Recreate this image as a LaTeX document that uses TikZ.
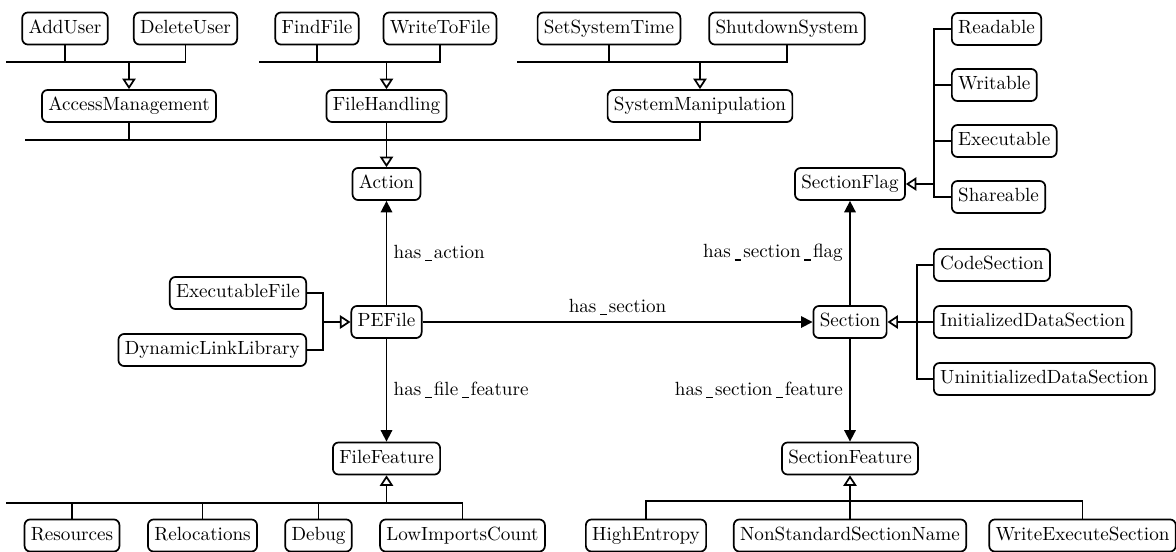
\documentclass[tikz,border=0pt]{standalone}
\usetikzlibrary{arrows.meta}
\newcommand\us{\hbox{\kern2pt\vrule width 3.5pt height -0.9pt depth 1.45pt\kern1pt}}
\begin{document}
\begin{tikzpicture}[x=0.5236pt,y=-0.5236pt,
  cls/.style={draw, rounded corners=3pt, line width=0.9pt, text height=7pt, text depth=2pt, inner xsep=3.33pt, inner ysep=3.9pt},
  conn/.style={line width=0.9pt},
  inh/.style={conn, -{Triangle[open,width=7pt,length=5.5pt]}},
  assoc/.style={conn, -{Triangle[width=6pt,length=6pt]}}]
\useasboundingbox (0,0) rectangle (1176,552);
% top row
\node[cls] (adduser) at (65,28.5) {AddUser};
\node[cls] (deleteuser) at (185.5,28.5) {DeleteUser};
\node[cls] (findfile) at (317,28.5) {FindFile};
\node[cls] (writetofile) at (440,28.5) {WriteToFile};
\node[cls] (setsystime) at (609,28.5) {SetSystemTime};
\node[cls] (shutdown) at (787,28.5) {ShutdownSystem};
\node[cls] (access) at (129,106) {AccessManagement};
\node[cls] (filehandling) at (386.5,106) {FileHandling};
\node[cls] (sysmanip) at (700,106) {SystemManipulation};
\node[cls] (action) at (386.5,184) {Action};
\node[cls] (secflag) at (850,184) {SectionFlag};
\node[cls, anchor=west] (readable) at (951,29) {Readable};
\node[cls, anchor=west] (writable) at (951,85) {Writable};
\node[cls, anchor=west] (executable) at (951,141) {Executable};
\node[cls, anchor=west] (shareable) at (951,197) {Shareable};
% middle
\node[cls] (pefile) at (386.5,322) {PEFile};
\node[cls, anchor=east] (exefile) at (307,293) {ExecutableFile};
\node[cls, anchor=east] (dll) at (307,350) {DynamicLinkLibrary};
\node[cls] (section) at (850,322) {Section};
\node[cls, anchor=west] (codesec) at (933,265) {CodeSection};
\node[cls, anchor=west] (initsec) at (933,322) {InitializedDataSection};
\node[cls, anchor=west] (uninitsec) at (933,379) {UninitializedDataSection};
% bottom
\node[cls] (filefeat) at (386.5,458.5) {FileFeature};
\node[cls] (secfeat) at (850,458.5) {SectionFeature};
\node[cls] (resources) at (72,535.5) {Resources};
\node[cls] (relocations) at (202.5,535.5) {Relocations};
\node[cls] (debug) at (318.5,535.5) {Debug};
\node[cls] (lowimports) at (462.5,535.5) {LowImportsCount};
\node[cls] (highentropy) at (646,535.5) {HighEntropy};
\node[cls] (nonstd) at (850,535.5) {NonStandardSectionName};
\node[cls] (writeexec) at (1082.5,535.5) {WriteExecuteSection};
% junctions
\coordinate (busA) at (6,62);
\coordinate (busB) at (259,62);
\coordinate (busC) at (517,62);
\coordinate (busD) at (25,140);
\coordinate (busF) at (934,184);
\coordinate (busP) at (323,322);
\coordinate (busS) at (917,322);
\coordinate (busFF) at (6,503);
\coordinate (busSF) at (850,501);
% inheritance buses
\draw[conn] (adduser.south) |- (busA);
\draw[conn] (deleteuser.south) |- (busA);
\draw[inh] (access.north |- busA) -- (access.north);
\draw[conn] (findfile.south) |- (busB);
\draw[conn] (writetofile.south) |- (busB);
\draw[inh] (filehandling.north |- busB) -- (filehandling.north);
\draw[conn] (setsystime.south) |- (busC);
\draw[conn] (shutdown.south) |- (busC);
\draw[inh] (sysmanip.north |- busC) -- (sysmanip.north);
\draw[conn] (access.south) |- (busD);
\draw[conn] (filehandling.south) |- (busD);
\draw[conn] (sysmanip.south) |- (busD);
\draw[inh] (action.north |- busD) -- (action.north);
\draw[conn] (readable.west) -| (busF);
\draw[conn] (writable.west) -| (busF);
\draw[conn] (executable.west) -| (busF);
\draw[conn] (shareable.west) -| (busF);
\draw[inh] (busF) -- (secflag.east);
\draw[conn] (exefile.east) -| (busP);
\draw[conn] (dll.east) -| (busP);
\draw[inh] (busP) -- (pefile.west);
\draw[conn] (codesec.west) -| (busS);
\draw[conn] (uninitsec.west) -| (busS);
\draw[inh] (initsec.west) -- (section.east);
\draw[conn] (resources.north) |- (busFF);
\draw[conn] (relocations.north) |- (busFF);
\draw[conn] (debug.north) |- (busFF);
\draw[conn] (lowimports.north) |- (busFF);
\draw[inh] (filefeat.south |- busFF) -- (filefeat.south);
\draw[conn] (highentropy.north) |- (busSF);
\draw[conn] (writeexec.north) |- (busSF);
\draw[inh] (nonstd.north) -- (secfeat.south);
% associations
\draw[assoc] (pefile.north) -- node[right] {has\us action} (action.south);
\draw[assoc] (pefile.east) -- node[above] {has\us section} (section.west);
\draw[assoc] (section.north) -- node[left] {has\us section\us flag} (secflag.south);
\draw[assoc] (pefile.south) -- node[right] {has\us file\us feature} (filefeat.north);
\draw[assoc] (section.south) -- node[left] {has\us section\us feature} (secfeat.north);
\end{tikzpicture}
\end{document}
